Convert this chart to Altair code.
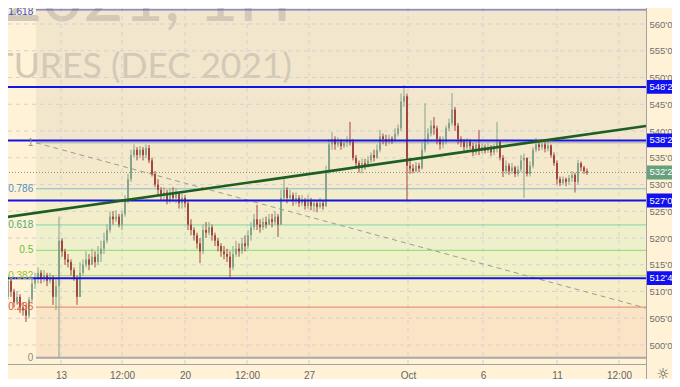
import altair as alt
import pandas as pd

# ---------------- data ----------------
first_open = 515.0
closes = [
    513, 509, 512, 510, 508, 509, 507, 506.5, 505.5, 508.5,
    511.5, 512.5, 513.5, 512.5, 513, 512, 512.5, 509, 511, 519.5,
    517.5, 516, 515.5, 514, 512.5, 509, 513.5, 515, 516, 515,
    516.5, 515.5, 517, 518, 519.5, 521.5, 524, 523.5, 524, 522.5,
    524.5, 527, 531, 535.5, 536.5, 535.5, 536.5, 535.5, 536.8, 534.5,
    532, 530, 529, 528, 528.5, 527, 528.5, 527.5, 528.3, 526.5,
    527.5, 526.5, 522.5, 521.5, 520.5, 519, 517.5, 521.5, 521, 522,
    520.5, 519.5, 518.5, 517.5, 517, 516.5, 514.5, 517, 518, 517.5,
    519, 518.5, 520.5, 522, 523.5, 522.5, 522, 523, 522.5, 523.5,
    523, 524, 522.5, 527.5, 529, 527.5, 528, 527, 527.5, 526.5,
    527, 526, 526.8, 526, 526.5, 525.8, 526.5, 526, 532.5, 537.5,
    538.5, 537.5, 538, 537.2, 537.8, 538.3, 538, 535, 534, 533,
    534, 533.5, 534.5, 535.5, 535, 536.5, 539, 538.5, 538, 538.6,
    538.2, 539.5, 540.5, 545.5, 546.5, 533.5, 533, 532.5, 533.5, 533,
    536.5, 538.5, 539.5, 541, 540.5, 538.5, 537.5, 538, 540.5, 541.5,
    544, 541, 538.5, 538, 537, 538, 537.2, 536, 537.5, 536.5,
    537, 536.3, 537, 536, 537, 538, 535, 532.5, 533.5, 532.5,
    533.2, 532, 532.8, 534.5, 535, 532, 533.5, 536.5, 537.5, 537,
    537.5, 536.7, 537.3, 535.5, 534, 531, 530.3, 531, 530.5, 531.2,
    531.8, 530.5, 534, 533.2, 532.5, 532.25,
]
highs = [
    516.5, 513.5, 513, 512.5, 510.5, 510, 509.5, 508, 507.5, 509,
    512.5, 513.5, 514.5, 514, 514, 513.5, 513.5, 513, 512.5, 524,
    520, 518, 517, 516, 514.5, 513, 515.5, 516, 517.5, 517,
    518, 517.5, 518.5, 519.5, 521, 522.5, 525, 525, 525.2, 524.5,
    525, 528, 532, 536.5, 537.5, 537, 537.2, 537, 537.5, 537.4,
    535, 532.5, 531, 529.5, 529.5, 529, 529.3, 529.5, 529.2, 528.5,
    528.5, 528, 527, 523.5, 522, 521, 520, 522.5, 523, 523,
    522.5, 521, 520, 519, 518.5, 518, 517.5, 518.5, 519.5, 519,
    520, 520.5, 521.5, 523, 524.5, 526.2, 523.5, 523.8, 524, 524.5,
    524.5, 525, 524.5, 529, 531.2, 529.5, 529, 528.5, 528.5, 528,
    528, 527.5, 528, 527.5, 527.2, 527, 527.5, 527, 533.5, 538.5,
    539.8, 539, 538.8, 538.5, 538.5, 539, 541.7, 538.5, 535.5, 534.5,
    534.8, 534.8, 535.3, 536, 536.5, 537.5, 540.2, 539.5, 539.3, 539.3,
    539, 540.5, 541.2, 547, 548.6, 547, 535, 533.8, 534.2, 534,
    538, 545.2, 540.5, 542, 542.6, 541, 539, 539, 541, 542.3,
    547.1, 544.5, 541.5, 539, 538.5, 538.7, 538.5, 537.8, 538, 540.2,
    537.7, 537.5, 537.7, 537.4, 537.6, 541.7, 538.3, 535.5, 534.5, 534,
    534, 533.5, 533.5, 535.5, 535.8, 535, 534.3, 537, 538.7, 538.3,
    538.2, 538, 538.2, 537.5, 536, 534.5, 531.5, 531.5, 531.3, 531.8,
    532.5, 532.2, 534.6, 534.3, 533.5, 533,
]
lows = [
    512, 507.5, 508.5, 509, 507, 507.5, 506, 505.5, 504.3, 505,
    508, 510.5, 511.5, 511.5, 511.8, 511, 511.5, 507.5, 506.5, 497.6,
    516.5, 515, 514.5, 513, 512, 507.5, 509, 513, 514.5, 514,
    515, 514.5, 515, 515.5, 517, 519, 521, 522.5, 523, 522,
    521.5, 524, 526.5, 530.5, 535, 534.5, 535, 534.5, 535, 534,
    531.5, 529.5, 528, 527, 527, 526.3, 526.5, 526.8, 526.5, 525.5,
    525.5, 525.7, 521.5, 520.5, 519.5, 518, 515.3, 517, 520, 520.5,
    519.5, 518.5, 517.5, 516.5, 516, 515.5, 512.7, 514, 516.5, 516.5,
    517, 517.5, 518, 519.5, 521.5, 521.5, 521, 521.5, 521.8, 522.5,
    522, 522.5, 520.2, 522.5, 527, 526.5, 527, 526, 526.3, 525.8,
    526, 525.3, 525.5, 525.2, 525, 524.8, 525.5, 525.3, 525.8, 532,
    536.5, 536.5, 537, 536.5, 536.8, 537, 537.3, 534.5, 533, 532.2,
    532.1, 532.8, 533.2, 534, 534.3, 534.8, 536, 537.5, 537.2, 537.5,
    537.6, 538, 539, 540, 544.5, 527, 532, 532.1, 532.3, 532.3,
    532.8, 536, 537.5, 539, 539.3, 537.5, 536.5, 536.8, 537.5, 540,
    541, 540, 537.5, 537, 536.3, 536.5, 536.6, 535.3, 535.5, 535.5,
    535.8, 535.8, 535.9, 535.3, 535.5, 536, 534.5, 531.4, 532, 531.8,
    532, 531.4, 531.5, 532.3, 527.5, 531.5, 531.5, 533, 536, 536.3,
    536.5, 536, 536.2, 535, 533.5, 530, 529.7, 530, 529.7, 530,
    530.5, 528.5, 530, 532.5, 532, 531.8,
]
assert len(closes) == len(highs) == len(lows)

# time axis labels (candle-index positions)
x_tick_pos = [19.667, 40, 61, 81.667, 102.333, 135.333, 160.333, 185, 205.667]
x_tick_lab = ["13", "12:00", "20", "12:00", "27", "Oct", "6", "11", "12:00"]
y_ticks = list(range(500, 561, 5))

# Fibonacci retracement
fib_zero, fib_one = 497.6, 537.8
fib_start = 11.333
fib_ratios = [0, 0.236, 0.382, 0.5, 0.618, 0.786, 1, 1.618]
fib_names = ["0", "0.236", "0.382", "0.5", "0.618", "0.786", "1", "1.618"]
fib_line_col = ["#a8a8a8", "#e4806c", "#b3d24c", "#8fd96e", "#80d3a6", "#88b9d2", "#a8a8a8", "#4456d8"]
fib_text_col = ["#8c8c8c", "#e0533d", "#98c22e", "#5cc43c", "#45b07c", "#4c93c4", "#8c8c8c", "#3d4fd0"]
fib_line_w = [2, 1, 1, 1, 1, 1, 1, 1]
zone_col = ["#FBE4C6", "#F6EEC9", "#F1F1C9", "#EEF0CC", "#F3EDCA", "#F4E9CB", "#F2E6CD", "#FCE9C7"]

# horizontal levels
level_prices = [548.25, 538.25, 527.0, 512.5]
level_labels = ["548'2", "538'2", "527'0", "512'4"]
last_price, last_label = 532.25, "532'2"

# trendline and fib diagonal
trend_x, trend_y = [-0.667, 214.667], [523.74, 540.93]
diag_x, diag_y = [11.333, 214.667], [537.8, 506.9]

# watermark
wm_text = ["CORN FUTURES (DEC 2021)", "ZCZ2021, 1H"]

# ---------------- build ----------------
X_MIN, X_MAX = -0.667, 214.667
Y_MIN, Y_MAX = 496.45, 564.49
xs = alt.Scale(domain=[X_MIN, X_MAX], nice=False, zero=False, padding=0)
ys = alt.Scale(domain=[Y_MIN, Y_MAX], nice=False, zero=False, padding=0)

lab_expr = ""
for v, l in zip(x_tick_pos, x_tick_lab):
    lab_expr += f"abs(datum.value - {v}) < 0.01 ? '{l}' : "
lab_expr += "''"

FONT = "Liberation Sans"
WMFONT = "Liberation Sans Narrow, Lato, sans-serif"
xaxis = alt.Axis(values=x_tick_pos, labelExpr=lab_expr, title=None, grid=False, ticks=False,
                 domainColor="#a3a3a3", labelColor="#666666", labelFontSize=10, labelFont=FONT,
                 labelPadding=6, labelFlush=False, labelOverlap=False)
yaxis = alt.Axis(values=y_ticks, labelExpr="datum.value + \"'0\"", orient="right", title=None,
                 grid=False, ticks=False, domainColor="#a3a3a3", labelColor="#707070",
                 labelFontSize=9.5, labelFont=FONT, labelPadding=3, labelOverlap=False, labelFlush=False)


def X(f):
    return alt.X(f, type="quantitative", scale=xs, axis=xaxis)


def Y(f):
    return alt.Y(f, type="quantitative", scale=ys, axis=yaxis)


opens = [first_open] + closes[:-1]
cdf = pd.DataFrame({"i": list(range(len(closes))), "open": opens, "high": highs,
                    "low": lows, "close": closes})
cdf["dir"] = ["up" if c >= o else "down" for o, c in zip(opens, closes)]

fib_prices = [fib_zero + r * (fib_one - fib_zero) for r in fib_ratios]
zdf = pd.DataFrame({
    "x": fib_start, "x2": X_MAX,
    "lo": fib_prices,
    "hi": fib_prices[1:] + [Y_MAX],
    "col": zone_col,
})
fdf = pd.DataFrame({"x": fib_start, "x2": X_MAX, "p": fib_prices, "col": fib_line_col,
                    "tcol": fib_text_col, "name": fib_names, "w": fib_line_w, "tx": 10.4})
fdf_main = fdf[fdf["name"] != "1.618"]
fdf_top = fdf[fdf["name"] == "1.618"]

gx = pd.DataFrame({"x": x_tick_pos})
gy = pd.DataFrame({"p": y_ticks, "x": X_MIN, "x2": X_MAX})

zones = alt.Chart(zdf).mark_rect().encode(
    x=X("x"), x2="x2", y=Y("lo"), y2="hi", color=alt.Color("col:N", scale=None))

wm1 = alt.Chart(pd.DataFrame({"t": [wm_text[0]]})).mark_text(
    align="right", baseline="alphabetic", font=WMFONT, fontSize=35.5, color="#d3c9b6").encode(
    x=alt.value(292), y=alt.value(78), text="t:N")
wm2 = alt.Chart(pd.DataFrame({"t": [wm_text[1]]})).mark_text(
    align="right", baseline="alphabetic", font=WMFONT, fontSize=70, color="#d3c9b6").encode(
    x=alt.value(292), y=alt.value(21), text="t:N")

grid_v = alt.Chart(gx).mark_rule(color="#d2d2d2", strokeDash=[4, 4], strokeWidth=1).encode(x=X("x"))
grid_h = alt.Chart(gy).mark_rule(color="#d2d2d2", strokeDash=[4, 4], strokeWidth=1).encode(
    x=X("x"), x2="x2", y=Y("p"))

fib_lines = alt.Chart(fdf).mark_rule().encode(
    x=X("x"), x2="x2", y=Y("p"), color=alt.Color("col:N", scale=None),
    strokeWidth=alt.StrokeWidth("w:Q", scale=None))
fib_text = alt.Chart(fdf_main).mark_text(align="right", baseline="middle", fontSize=10, font=FONT).encode(
    x=X("tx"), y=Y("p"), text="name:N", color=alt.Color("tcol:N", scale=None))
fib_text_top = alt.Chart(fdf_top).mark_text(align="right", baseline="middle", fontSize=10, font=FONT, dy=2).encode(
    x=X("tx"), y=Y("p"), text="name:N", color=alt.Color("tcol:N", scale=None))

diag = alt.Chart(pd.DataFrame({"x": diag_x, "p": diag_y})).mark_line(
    color="#9b9b9b", strokeDash=[5, 4], strokeWidth=1, clip=True).encode(x=X("x"), y=Y("p"))

cur = alt.Chart(pd.DataFrame({"x": [X_MIN], "x2": [X_MAX], "p": [last_price]})).mark_rule(
    color="#8e9a78", strokeDash=[1, 2], strokeWidth=1).encode(x=X("x"), x2="x2", y=Y("p"))

ccol = alt.Color("dir:N", scale=alt.Scale(domain=["up", "down"], range=["#86a38c", "#a2473f"]), legend=None)
wicks = alt.Chart(cdf).mark_rule(strokeWidth=1).encode(x=X("i"), y=Y("low"), y2="high", color=ccol)
bodies = alt.Chart(cdf).mark_bar(size=2).encode(x=X("i"), y=Y("open"), y2="close", color=ccol)

ldf = pd.DataFrame({"x": X_MIN, "x2": X_MAX, "p": level_prices, "lab": level_labels})
blue_lines = alt.Chart(ldf).mark_rule(color="#1414e6", strokeWidth=2).encode(x=X("x"), x2="x2", y=Y("p"))

trend = alt.Chart(pd.DataFrame({"x": trend_x, "p": trend_y})).mark_line(
    color="#1d5e22", strokeWidth=2.6, clip=True).encode(x=X("x"), y=Y("p"))

# right price-scale tags
ldf["lo"] = [p - 1.3 for p in level_prices]
ldf["hi"] = [p + 1.3 for p in level_prices]
tag_box = alt.Chart(ldf).mark_rect(color="#1010f0").encode(
    x=alt.value(647), x2=alt.value(682), y=Y("lo"), y2="hi")
tag_txt = alt.Chart(ldf).mark_text(align="left", baseline="middle", color="white", fontSize=9.5, font=FONT).encode(
    x=alt.value(649.5), y=Y("p"), text="lab:N")
cdf2 = pd.DataFrame({"p": [last_price], "lo": [last_price - 1.3], "hi": [last_price + 1.3], "lab": [last_label]})
cur_box = alt.Chart(cdf2).mark_rect(color="#66a07c").encode(x=alt.value(647), x2=alt.value(682), y=Y("lo"), y2="hi")
cur_txt = alt.Chart(cdf2).mark_text(align="left", baseline="middle", color="white", fontSize=9.5, font=FONT).encode(
    x=alt.value(649.5), y=Y("p"), text="lab:N")

sep = alt.Chart(pd.DataFrame({"a": [0]})).mark_rule(color="#a3a3a3", strokeWidth=1).encode(
    x=alt.value(646.5), y=alt.value(0), y2=alt.value(390))
gear = alt.Chart(pd.DataFrame({"t": ["☼"]})).mark_text(fontSize=15, color="#555555", font="DejaVu Sans").encode(
    x=alt.value(663), y=alt.value(374), text="t:N")

chart = alt.layer(
    zones, wm1, wm2, grid_v, grid_h, fib_lines, diag, cur, wicks, bodies,
    blue_lines, trend, fib_text, fib_text_top, sep, tag_box, tag_txt, cur_box, cur_txt, gear,
).properties(
    width=646, height=364,
    autosize=alt.AutoSizeParams(type="none"),
    padding={"left": -8, "top": -8, "right": 26, "bottom": 15},
    background="#FFF2D6",
).configure_view(strokeWidth=0)

chart.save("out.html", embed_options={"renderer": "svg", "actions": False})
